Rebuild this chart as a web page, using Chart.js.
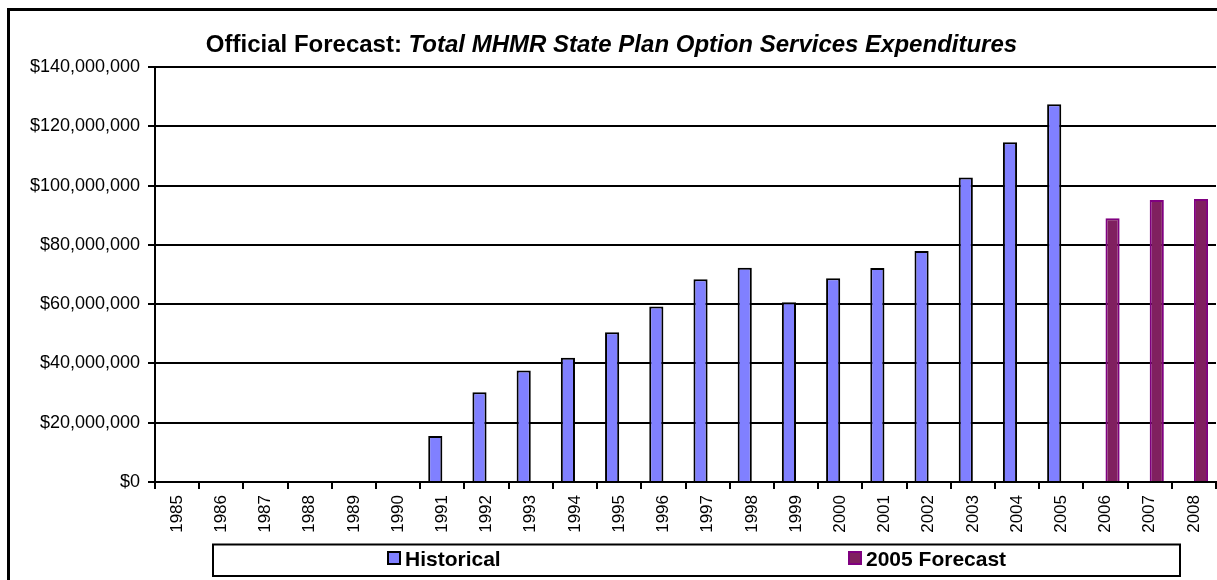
<!DOCTYPE html>
<html>
<head>
<meta charset="utf-8">
<script src="https://cdn.jsdelivr.net/npm/chart.js@4.4.0/dist/chart.umd.min.js"></script>
<style>
  html, body { margin: 0; padding: 0; background: #fff; }
</style>
</head>
<body>
<canvas id="graficoGastos" width="1217" height="580"></canvas>
<script>
const anos = ['1985', '1986', '1987', '1988', '1989', '1990', '1991', '1992', '1993', '1994', '1995', '1996',
  '1997', '1998', '1999', '2000', '2001', '2002', '2003', '2004', '2005', '2006', '2007', '2008'];

const historico = [null, null, null, null, null, null, 15.5e6, 30.3e6, 37.6e6, 41.9e6, 50.5e6, 59.2e6,
  68.4e6, 72.3e6, 60.6e6, 68.7e6, 72.2e6, 77.9e6, 102.7e6, 114.6e6, 127.4e6, null, null, null];

const previsao2005 = [null, null, null, null, null, null, null, null, null, null, null, null,
  null, null, null, null, null, null, null, null, null, 89.0e6, 95.1e6, 95.5e6];

const marcasY = [0, 20e6, 40e6, 60e6, 80e6, 100e6, 120e6, 140e6];

const tituloNormal = 'Official Forecast: ';
const tituloItalico = 'Total MHMR State Plan Option Services Expenditures';

const fonte = "'Liberation Sans', Arial, sans-serif";

function formatarDolar(valor) {
  return '$' + Number(valor).toLocaleString('en-US');
}

// moldura externa, título em duas fontes e legenda dentro de uma caixa
const enfeites = {
  id: 'enfeites',
  beforeDraw(chart) {
    const ctx = chart.ctx;
    ctx.save();
    ctx.fillStyle = '#fff';
    ctx.fillRect(0, 0, chart.width, chart.height);
    ctx.restore();
  },
  afterDraw(chart) {
    const ctx = chart.ctx;
    ctx.save();

    ctx.strokeStyle = '#000';
    ctx.lineWidth = 3;
    ctx.beginPath();
    ctx.moveTo(8.5, chart.height);
    ctx.lineTo(8.5, 9.5);
    ctx.lineTo(chart.width, 9.5);
    ctx.stroke();

    // título
    ctx.fillStyle = '#000';
    ctx.textBaseline = 'alphabetic';
    ctx.textAlign = 'left';
    ctx.font = 'bold 24px ' + fonte;
    const w1 = ctx.measureText(tituloNormal).width;
    ctx.font = 'italic bold 24px ' + fonte;
    const w2 = ctx.measureText(tituloItalico).width;
    const x = chart.width / 2 + 3 - (w1 + w2) / 2;
    ctx.font = 'bold 24px ' + fonte;
    ctx.fillText(tituloNormal, x, 52);
    ctx.font = 'italic bold 24px ' + fonte;
    ctx.fillText(tituloItalico, x + w1, 52);

    // legenda
    const caixa = { left: 213, top: 544.5, right: 1180, bottom: 576 };
    ctx.lineWidth = 2;
    ctx.strokeStyle = '#000';
    ctx.strokeRect(caixa.left, caixa.top, caixa.right - caixa.left, caixa.bottom - caixa.top);

    const posicoes = [388, 849];
    ctx.font = 'bold 21px ' + fonte;
    chart.data.datasets.forEach((ds, i) => {
      const px = posicoes[i];
      ctx.fillStyle = ds.backgroundColor;
      ctx.fillRect(px, 552, 12, 12);
      ctx.lineWidth = 2;
      ctx.strokeStyle = ds.borderColor;
      ctx.strokeRect(px, 552, 12, 12);
      ctx.fillStyle = '#000';
      ctx.fillText(ds.label, px + 17, 566);
    });

    ctx.restore();
  }
};

const grafico = new Chart(document.querySelector('#graficoGastos'), {
  type: 'bar',
  data: {
    labels: anos,
    datasets: [{
      label: 'Historical',
      data: historico,
      backgroundColor: '#8080FF',
      borderColor: '#000000',
      borderWidth: 2,
      borderSkipped: 'bottom'
    }, {
      label: '2005 Forecast',
      data: previsao2005,
      backgroundColor: '#80205F',
      borderColor: '#800080',
      borderWidth: 2,
      borderSkipped: 'bottom'
    }]
  },
  options: {
    responsive: false,
    animation: false,
    devicePixelRatio: 1,
    datasets: {
      bar: { categoryPercentage: 0.64, barPercentage: 1.0 }
    },
    layout: {
      padding: { left: 0, right: 1, top: 67, bottom: 43 }
    },
    plugins: {
      legend: { display: false },
      title: { display: false },
      tooltip: { enabled: false }
    },
    scales: {
      x: {
        grid: {
          offset: true,
          drawOnChartArea: false,
          drawTicks: true,
          tickLength: 7,
          color: '#000',
          lineWidth: 2
        },
        border: { color: '#000', width: 2 },
        ticks: {
          color: '#000',
          font: { family: fonte, size: 17 },
          minRotation: 90,
          maxRotation: 90,
          autoSkip: false,
          padding: 6
        },
        afterFit(escala) {
          escala.height = 55;
          escala.paddingRight = 0;
          escala.paddingLeft = 0;
        }
      },
      y: {
        min: 0,
        max: 140e6,
        afterBuildTicks(escala) {
          escala.ticks = marcasY.map(v => ({ value: v }));
        },
        grid: {
          color: '#000',
          lineWidth: 2,
          drawTicks: true,
          tickLength: 7
        },
        border: { color: '#000', width: 2 },
        ticks: {
          color: '#000',
          font: { family: fonte, size: 18 },
          padding: 8,
          callback: formatarDolar
        },
        afterFit(escala) { escala.width = 155; }
      }
    }
  },
  plugins: [enfeites]
});
</script>
</body>
</html>
